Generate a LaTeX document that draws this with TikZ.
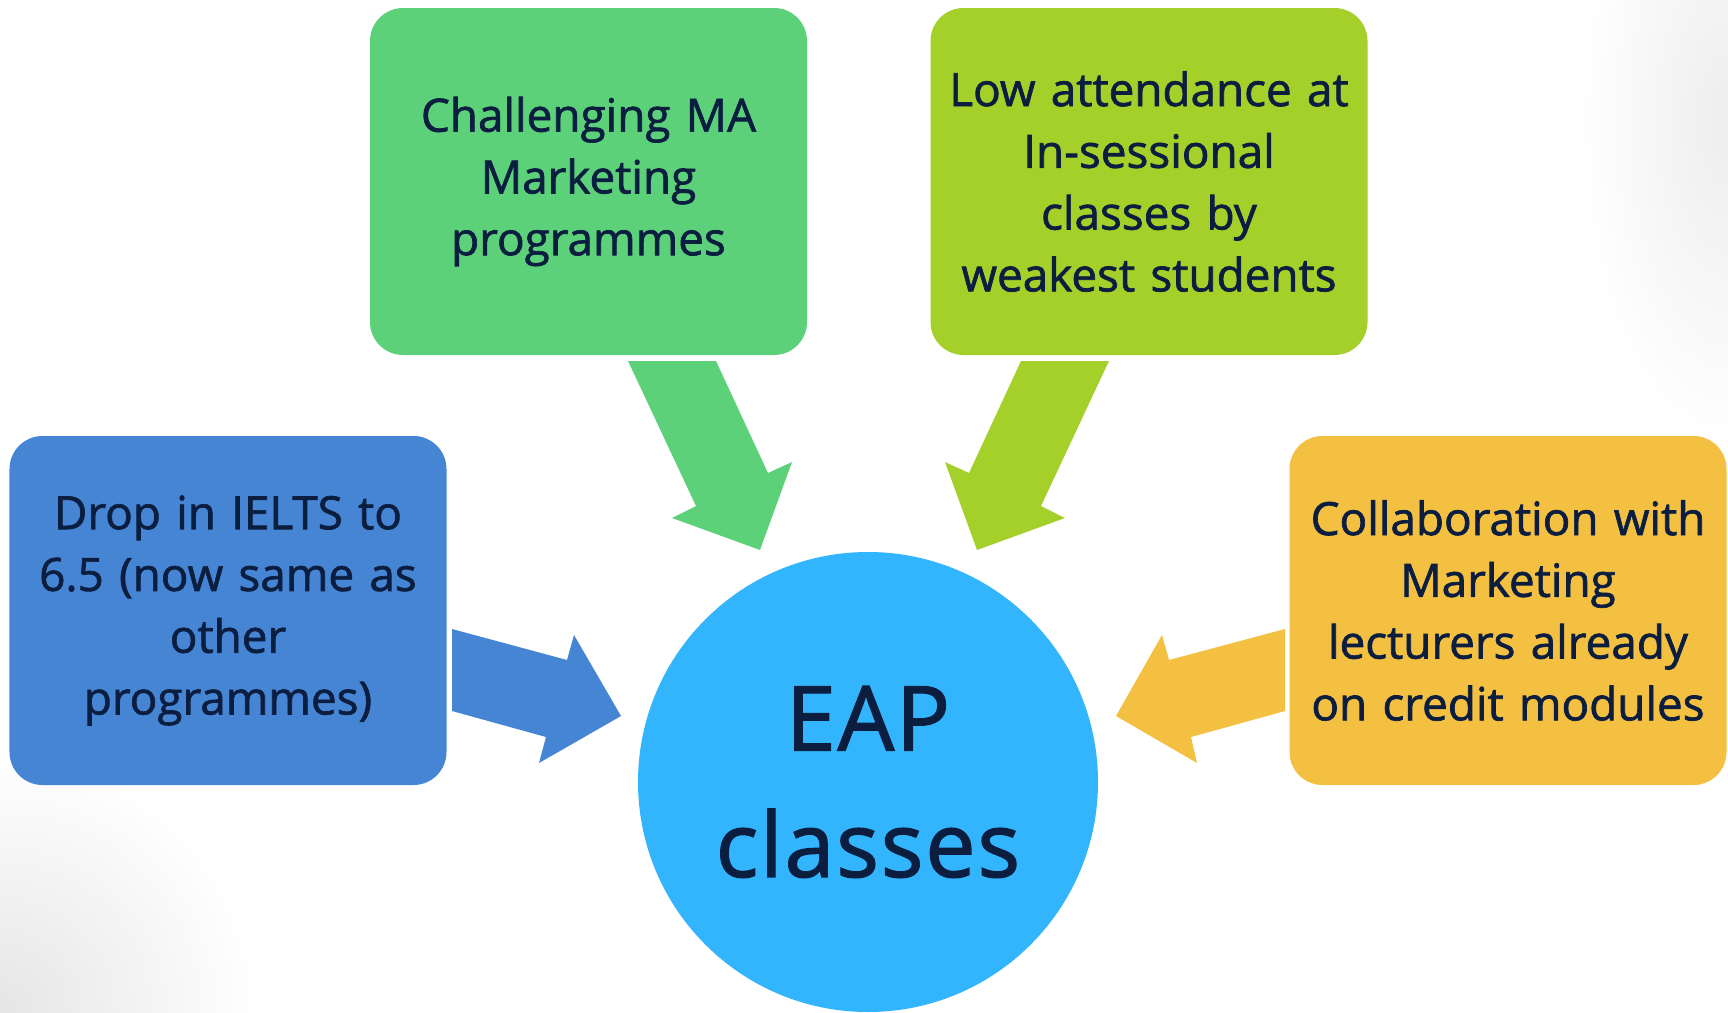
\documentclass[tikz,border=0pt]{standalone}
\usepackage{fontspec}
\setmainfont{Open Sans}[FakeBold=1]
\newfontfamily\boxfont[FakeBold=1.5]{Open Sans}
\newfontfamily\bigfont[LetterSpace=2,FakeBold=1.5]{Open Sans}
\definecolor{txt}{RGB}{12,30,64}
\definecolor{cgreen}{RGB}{93,209,122}
\definecolor{clime}{RGB}{165,208,42}
\definecolor{cblue}{RGB}{69,133,211}
\definecolor{corange}{RGB}{244,192,65}
\definecolor{ccircle}{RGB}{51,181,253}
\tikzset{
  box/.style={rounded corners=33bp, inner sep=0pt, minimum width=437bp, minimum height=347bp,
    text width=420bp, align=center, text=txt, font=\boxfont\fontsize{46}{62}\selectfont},
  hub/.style={circle, inner sep=0pt, minimum size=460bp, fill=ccircle, text=txt, align=center,
    font=\bigfont\fontsize{90}{127}\selectfont},
}
\begin{document}
\begin{tikzpicture}[x=1bp,y=-1bp]
\useasboundingbox (0,0) rectangle (1728,1012);
\begin{scope}
  \clip (0,0) rectangle (1728,1012);
  \fill[white] (0,0) rectangle (1728,1012);
  \shade[inner color=black!10, outer color=white] (0,1012) circle (260);
  \shade[inner color=black!7, outer color=white] (1728,120) ellipse (150 and 330);
\end{scope}
% boxes
\node[box, fill=cgreen]  (ma)     at (588.5,181.5) {Challenging MA\\Marketing\\programmes};
\node[box, fill=clime]   (low)    at (1149,181.5) {Low attendance at\\In-sessional\\classes by\\weakest students};
\node[box, fill=cblue, minimum height=349bp]   (ielts)  at (228,610.5) {Drop in IELTS to\\6.5 (now same as\\other\\programmes)};
\node[box, fill=corange, minimum height=349bp] (collab) at (1508,610.5) {Collaboration with\\Marketing\\lecturers already\\on credit modules};
% hub
\node[hub] (eap) at (868,782) {EAP\\classes};
% block arrows
\fill[cgreen]  (628,361) -- (716,361) -- (768,473) -- (792,462) -- (760,550) -- (672,518) -- (696,506) -- cycle;
\fill[clime]   (1109,361) -- (1021,361) -- (969,473) -- (945,462) -- (977,550) -- (1065,518) -- (1041,506) -- cycle;
\fill[cblue]   (452,629) -- (567,660) -- (574,635) -- (621,716) -- (539,763) -- (546,737) -- (452,711) -- cycle;
\fill[corange] (1285,629) -- (1169,660) -- (1162,635) -- (1116,716) -- (1197,763) -- (1191,737) -- (1285,711) -- cycle;
\end{tikzpicture}
\end{document}
